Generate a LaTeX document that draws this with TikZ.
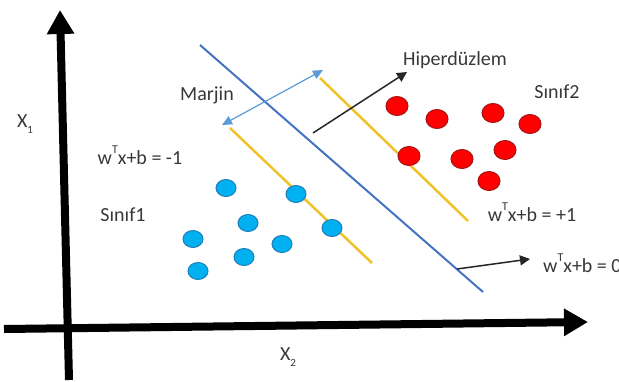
\documentclass[tikz,border=0pt]{standalone}
\usepackage{fontspec}
\setmainfont{Carlito}
\usetikzlibrary{arrows.meta, positioning, shapes.geometric}
\definecolor{PlaneBlue}{RGB}{68, 114, 196}
\definecolor{MarginGold}{RGB}{240, 194, 40}
\definecolor{MarginArrow}{RGB}{91, 155, 213}
\definecolor{DotBlue}{RGB}{0, 176, 240}
\definecolor{DotBlueEdge}{RGB}{30, 128, 186}
\definecolor{DotRed}{RGB}{255, 0, 0}
\definecolor{DotRedEdge}{RGB}{165, 20, 20}
\definecolor{TextGray}{RGB}{56, 56, 56}
\newcommand{\wT}{w\raisebox{1.1ex}{\fontsize{12}{12}\selectfont T}}
\newcommand{\subidx}[1]{\raisebox{-0.7ex}{\fontsize{11}{11}\selectfont #1}}

\begin{document}
\begin{tikzpicture}[
    x=1pt, y=-1pt,
    every node/.style={font=\fontsize{20}{23}\selectfont, text=TextGray, inner sep=1pt},
    axis/.style={draw=black, line width=8pt, -{Triangle[length=24pt, width=26pt]}},
    plane/.style={draw=PlaneBlue, line width=2pt},
    margin/.style={draw=MarginGold, line width=2.5pt},
    pointer/.style={draw=black!85, line width=1.5pt, -{Triangle[length=10pt, width=10pt]}},
    marginarrow/.style={draw=MarginArrow, line width=1.2pt, {Triangle[length=10pt, width=9pt]}-{Triangle[length=10pt, width=9pt]}},
    bluedot/.style={ellipse, draw=DotBlueEdge, fill=DotBlue, line width=1pt, minimum width=20pt, minimum height=17pt, inner sep=0pt},
    reddot/.style={ellipse, draw=DotRedEdge, fill=DotRed, line width=1pt, minimum width=22pt, minimum height=19pt, inner sep=0pt}
  ]
    \useasboundingbox (0,0) rectangle (619,381);

    % Axes
    \coordinate (xstart) at (4,329);
    \coordinate (xend) at (588,322);
    \coordinate (ystart) at (69,380);
    \coordinate (yend) at (60,10);
    \draw[axis] (xstart) -- (xend);
    \draw[axis] (ystart) -- (yend);
    \node (x1) at (25,124) {X\subidx{1}};
    \node (x2) at (288,357) {X\subidx{2}};

    % Hyperplane and margins
    \coordinate (hp1) at (200,45);
    \coordinate (hp2) at (483,292);
    \coordinate (up1) at (320,78);
    \coordinate (up2) at (468,221);
    \coordinate (lo1) at (230,128);
    \coordinate (lo2) at (372,263);
    \draw[plane] (hp1) -- (hp2);
    \draw[margin] (up1) -- (up2);
    \draw[margin] (lo1) -- (lo2);

    % Pointers
    \coordinate (mg1) at (222,125);
    \coordinate (mg2) at (323,70);
    \coordinate (hpA) at (313,133);
    \coordinate (hpB) at (407,72);
    \coordinate (zA) at (457,269);
    \coordinate (zB) at (530,259);
    \draw[marginarrow] (mg1) -- (mg2);
    \draw[pointer] (hpA) -- (hpB);
    \draw[pointer] (zA) -- (zB);

    % Class 1
    \foreach \px/\py [count=\i] in {226/188, 296/194, 248/223, 193/239, 282/244, 244/257, 198/271, 332/228}
      \node[bluedot] (b\i) at (\px,\py) {};

    % Class 2
    \foreach \px/\py [count=\i] in {397/106, 437/119, 493/113, 530/124, 409/156, 462/159, 505/150, 489/181}
      \node[reddot] (r\i) at (\px,\py) {};

    % Labels
    \node (hyper) at (455,60) {Hiperdüzlem};
    \node (marjin) at (207,95) {Marjin};
    \node (cls2) at (557,92) {Sınıf2};
    \node (cls1) at (123,215) {Sınıf1};
    \node (eqm) at (140,155) {\wT x+b = -1};
    \node (eqp) at (532,212) {\wT x+b = +1};
    \node[right=12pt of zB, yshift=-4pt] (eqz) {\wT x+b = 0};
  \end{tikzpicture}
\end{document}
